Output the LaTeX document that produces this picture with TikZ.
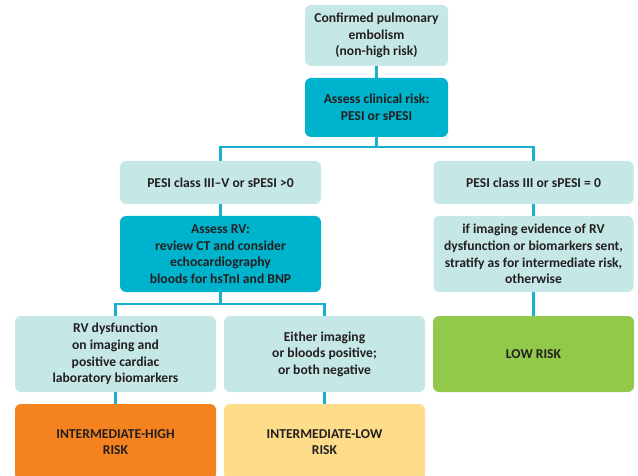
\documentclass[tikz,border=0pt]{standalone}
\usepackage{fontspec}
\setmainfont{Carlito}
\definecolor{pale}{HTML}{C5E7E6}
\definecolor{teal}{HTML}{00B3CD}
\definecolor{linec}{HTML}{17B1CD}
\definecolor{orangeb}{HTML}{F4831F}
\definecolor{yellowb}{HTML}{FDDC8A}
\definecolor{greenb}{HTML}{93C94A}
\definecolor{txt}{HTML}{231F20}
\begin{document}
\begin{tikzpicture}[x=1pt,y=-1pt,
  box/.style={rounded corners=6pt, align=center, inner sep=0pt,
    font=\fontsize{13.6}{16.6}\selectfont\bfseries, text=txt},
  paleb/.style={box, fill=pale},
  tealb/.style={box, fill=teal},
  conn/.style={draw=linec, line width=2.6pt}]
\useasboundingbox (0,0) rectangle (638,476);
\clip (0,0) rectangle (638,476);
\node[paleb, minimum width=143pt, minimum height=61pt] (top) at (376.5,35.5) {Confirmed pulmonary\\embolism\\(non-high risk)};
\node[tealb, minimum width=143pt, minimum height=59pt] (clin) at (376.5,107.5) {Assess clinical risk:\\PESI or sPESI};
\node[paleb, minimum width=201pt, minimum height=43pt] (pesiH) at (220.5,182.5) {PESI class III--V or sPESI >0};
\node[tealb, minimum width=201pt, minimum height=76pt] (rv) at (220.5,254) {Assess RV:\\review CT and consider\\echocardiography\\bloods for hsTnI and BNP};
\node[paleb, minimum width=200pt, minimum height=43pt] (pesiL) at (533.5,182.5) {PESI class III or sPESI = 0};
\node[paleb, minimum width=200pt, minimum height=76pt] (imgL) at (533.5,254) {if imaging evidence of RV\\dysfunction or biomarkers sent,\\stratify as for intermediate risk,\\otherwise};
\node[paleb, minimum width=201pt, minimum height=76pt] (rvd) at (115.5,354) {RV dysfunction\\on imaging and\\positive cardiac\\laboratory biomarkers};
\node[paleb, minimum width=201pt, minimum height=76pt] (either) at (324.5,354) {Either imaging\\or bloods positive;\\or both negative};
\node[box, fill=greenb, minimum width=201pt, minimum height=76pt] (low) at (533.5,354) {LOW RISK};
\node[box, fill=orangeb, minimum width=201pt, minimum height=76pt] (ih) at (115.5,442) {INTERMEDIATE-HIGH\\RISK};
\node[box, fill=yellowb, minimum width=201pt, minimum height=76pt] (il) at (324.5,442) {INTERMEDIATE-LOW\\RISK};
\coordinate (j1) at (376.5,147);
\coordinate (j2) at (220.5,304);
\draw[conn] (top.south) -- (clin.north);
\draw[conn] (clin.south) -- (j1);
\draw[conn] (j1) -| (pesiH.north);
\draw[conn] (j1) -| (pesiL.north);
\draw[conn] (pesiH.south) -- (rv.north);
\draw[conn] (rv.south) -- (j2);
\draw[conn] (j2) -| (rvd.north);
\draw[conn] (j2) -| (either.north);
\draw[conn] (rvd.south) -- (ih.north);
\draw[conn] (either.south) -- (il.north);
\draw[conn] (pesiL.south) -- (imgL.north);
\draw[conn] (imgL.south) -- (low.north);
\end{tikzpicture}
\end{document}
